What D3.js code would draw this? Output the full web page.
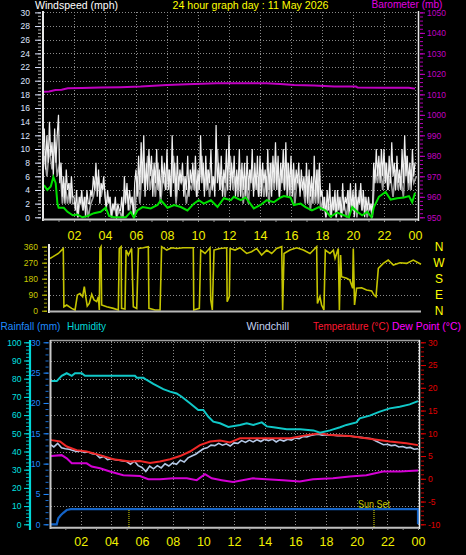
<!DOCTYPE html>
<html><head><meta charset="utf-8">
<script src="https://cdn.jsdelivr.net/npm/d3@7/dist/d3.min.js"></script>
<style>
html,body{margin:0;padding:0;background:#000;}
svg{display:block;}
text{font-family:"Liberation Sans",Arial,sans-serif;}
</style></head><body>
<svg id="c" width="466" height="555"></svg>
<script>
// ---------- DATA ----------
const titleDate = "24 hour graph day : 11 May 2026";
const hourTicks = [2,4,6,8,10,12,14,16,18,20,22,24];

// gust (white), 5-minute samples (mph) from 00:00 to 24:00
const gustMph = [
10,13,7,12,8,14,9,11,6,13,8,12,
15,5,8,3,6,2,7,4,5,2,6,3,
3,1,4,0,3,2,4,1,3,0,4,2,
2,4,3,6,4,8,3,7,2,5,4,6,
3,1,4,2,3,0,2,1,3,0,2,1,
1,3,0,6,2,5,1,4,2,3,0,5,
7,3,9,4,11,5,12,3,8,4,10,6,
9,3,8,5,10,4,7,3,9,5,8,4,
10,4,7,3,12,5,8,3,9,4,7,5,
8,3,6,4,9,3,7,5,8,4,9,3,
7,4,12,5,8,3,9,4,7,5,10,4,
6,3,13.5,5,8,4,9,3,7,5,10,4,
12,4,8,5,9,3,7,4,10,3,8,4,
8,3,9,4,7,5,10,3,8,4,9,3,
9,3,8,5,7,3,10,4,8,3,9,5,
11,4,9,3,8,5,10,4,11,3,8,4,
9,3,8,4,7,5,8,3,7,4,6,3,
8,2,7,3,6,2,9,3,7,2,8,3,
4,1,3,0,4,1,5,0,3,1,4,0,
4,1,3,0,5,1,3,2,4,0,5,1,
4,0,5,1,3,2,5,1,4,0,3,1,
3,1,2,0,8,5,10,6,9,5,10,6,
10,5,8,4,9,5,11,6,8,4,9,5,
7,4,10,5,12,6,9,5,8,4,10,6,
8];
// wind speed (grey), 10-minute samples
const speedMph = [
9,6,10,7,11,6, 8,2,5,2,5,2, 2,0,3,1,3,0, 2,3,5,6,3,5, 2,3,0,2,0,1, 0,3,4,1,3,0,
6,2,8,4,9,4, 7,3,8,2,6,4, 7,3,9,2,6,5, 6,2,5,4,7,3, 5,9,4,7,3,6, 5,10,4,6,3,7,
9,4,6,3,7,2, 6,2,7,4,6,3, 7,3,6,2,8,4, 8,3,7,4,8,3, 7,2,6,4,5,2, 6,1,5,2,7,1,
3,0,2,0,3,0, 3,0,2,0,4,1, 3,0,4,1,3,0, 2,0,7,5,8,4, 8,4,6,3,7,4, 6,3,9,4,7,5, 6];

const avgHours = [0.06,0.28,0.5,0.67,0.82,0.93,1.01,1.34,1.58,1.92,2.22,2.54,2.87,3.29,3.72,4.05,4.26,4.56,5.02,5.34,5.66,5.86,6.09,6.42,6.95,7.39,7.6,8.03,8.46,8.89,9.32,9.73,10.05,10.37,10.83,11.26,11.67,12.12,12.31,12.76,13.07,13.6,14.03,14.44,14.89,15.33,15.54,15.97,16.18,16.62,16.94,17.35,17.8,18.23,18.55,18.98,19.41,19.74,19.95,20.27,20.59,20.92,21.2,21.35,21.67,22.1,22.43,22.85,23.28,23.61,23.82,24.0];
const avgMph = [4.7,4.0,4.5,5.9,5.0,2.0,1.4,1.4,0.8,0.3,0.4,0,0.2,0.6,0.8,1.4,0.2,0,0,0,0.8,0,1.0,1.5,1.3,1.8,2.5,1.4,1.8,1.5,1.0,2.0,2.5,2.0,2.5,1.5,2.8,2.5,3.0,2.5,2.9,1.3,1.8,2.5,2.2,2.9,3.1,2.9,1.8,2.0,1.5,1.0,1.5,1.0,0.1,0.7,0.3,0,1.5,0.8,0.3,0.8,0,1.5,3.0,3.7,2.6,2.8,2.9,3.1,2.2,3.6];

const baroHours = [0,0.4,0.8,1.2,1.6,2.5,3.7,5.0,6.3,8.0,9.3,11.2,12.3,14.4,15.3,16.2,17.5,18.8,20.2,20.3,22,23.6,24];
const baroMb = [1011.3,1011.4,1012.1,1012.3,1013.0,1013.1,1013.3,1013.5,1013.8,1014.6,1014.9,1015.4,1015.4,1015.4,1015.1,1014.6,1014.3,1013.8,1013.8,1013.3,1013.2,1013.2,1012.8];

// wind direction (degrees)
const dirHours = [0,0.2,0.54,0.86,0.9,1.08,1.4,1.62,1.77,1.94,2.11,2.22,2.33,2.41,2.54,2.7,2.85,3.02,3.13,3.19,3.23,3.3,3.34,3.67,4.1,4.42,4.48,4.6,4.63,4.85,4.92,5.07,5.28,5.39,5.61,5.72,6.04,6.36,6.4,6.8,7.12,7.22,7.55,7.87,8.2,8.62,9.27,9.3,9.66,9.75,10.03,10.35,10.4,10.5,10.61,11.0,11.43,11.46,11.6,11.65,11.97,12.29,12.72,13.04,13.37,13.69,14.02,14.34,14.66,14.99,15.05,15.14,15.52,15.96,16.39,16.82,17.14,17.25,17.3,17.46,17.57,17.72,17.81,18.11,18.33,18.44,18.65,18.72,18.8,18.86,19.19,19.4,19.58,19.62,19.7,19.83,20.16,20.48,20.81,20.96,21.09,21.24,21.56,21.88,22.21,22.64,23.07,23.5,24.0];
const dirDeg = [294,304,322,350,22,32,13,4,88,97,79,135,69,26,41,92,60,51,79,4,350,360,32,22,13,4,350,360,13,9,341,313,350,22,13,350,354,360,13,4,4,360,341,354,350,354,354,4,13,341,322,354,60,4,341,350,354,51,79,350,341,354,322,332,350,313,341,322,350,360,4,322,341,354,341,322,350,360,41,79,32,4,341,322,341,294,350,4,313,191,182,172,126,350,32,126,129,116,111,88,79,238,266,285,257,270,266,285,261];
const dirLetters = ["N","W","S","E","N"];

// humidity, temperature etc.
const humHours = [0,0.44,0.76,1.09,1.42,1.63,2.07,2.28,3.26,4.78,5.54,5.66,6.09,6.31,6.74,7.39,7.83,8.26,8.59,9.13,9.67,10.0,10.33,10.65,11.09,11.63,12.39,12.83,13.26,13.81,14.14,14.57,15.44,16.31,17.18,17.61,18.26,18.92,19.33,19.98,20.2,20.85,21.51,22.16,22.81,23.46,24];
const humPct = [78.7,78.7,81.6,83,81.6,83,83,81.6,81.6,81.6,81.6,80.5,80.5,79.3,77.1,74.3,72.9,71.9,70.1,66.5,62.8,62.8,59.1,56.4,55.5,53.5,54.6,55.5,54.6,56,53.8,53.3,52.2,52.2,51.6,50.3,51.6,53.3,54.6,56,58.2,59.7,61.9,63.7,64.6,65.9,67.7];

const tempHours = [0,0.11,0.65,1.09,1.74,2.39,3.26,4.13,5.22,5.87,6.52,7.17,7.83,8.48,9.13,9.78,10.44,11.09,11.74,12.39,13.48,14.57,15.66,16.74,17.61,18.26,19.55,21.07,22.16,23.24,24];
const tempC = [8.6,8.5,8.2,7.1,6.3,6.0,5.2,4.3,3.8,3.9,3.5,3.8,4.3,5.0,6.0,7.4,8.2,8.4,8.0,8.9,8.9,8.9,8.9,9.6,10.0,9.6,9.4,8.7,8.2,7.8,7.4];

// windchill, 15-minute samples
const chillC = [7.6,7.0,7.8,6.8,6.6,6.5,6.2,6.0,6.1,5.8,5.9,5.5,5.4,4.6,4.9,4.2,4.4,4.2,4.1,3.9,3.8,3.2,3.9,2.9,
2.5,1.6,2.8,2.2,2.9,2.4,3.3,2.8,3.5,3.2,4.1,3.7,4.6,5.0,5.4,6.0,6.6,6.8,7.4,7.3,7.8,7.4,7.7,7.2,
7.9,7.8,8.4,8.0,8.5,8.1,8.6,8.2,8.7,8.4,8.7,8.1,8.6,8.3,8.7,8.5,9.0,8.8,9.3,9.2,9.5,9.7,9.8,9.6,
9.7,9.6,9.6,9.5,9.5,9.4,9.4,9.3,9.2,9.1,9.0,8.9,8.8,8.3,7.9,7.5,7.6,7.3,7.4,7.0,7.1,6.8,6.9,6.5,6.6];

const dewHours = [0,0.76,1.09,1.42,2.39,2.72,3.26,3.91,4.78,5.87,6.41,7.17,8.04,8.92,9.57,10.11,10.55,11.2,11.94,13.24,14.11,15.2,16.29,17.15,18.46,19.55,20.63,21.72,22.81,24];
const dewC = [5.0,5.2,4.5,3.4,3.4,2.7,2.3,1.6,0.8,0.6,-0.1,-0.1,0.1,0.1,-0.3,1.0,0.1,-0.3,-0.7,0.1,-0.1,-0.3,-0.6,-0.1,0.1,0.5,0.8,1.6,1.6,1.8];

const rainHours = [0,0.44,0.54,0.7,0.87,1.09,1.35,24,24];
const rainMm = [0,0,1.0,1.5,1.9,2.35,2.5,2.5,0];

const sunriseHour = 5.15, sunsetHour = 21.13;

// ---------- DRAW ----------
const svg = d3.select("#c");
svg.append("rect").attr("width",466).attr("height",555).attr("fill","#000");
const fmtHour = d => String(d % 24).padStart(2,"0");
const GRID = "#8a8a8a";

function clip(id,x,y,w,h){
  svg.append("clipPath").attr("id",id).append("rect").attr("x",x).attr("y",y).attr("width",w).attr("height",h);
}
function styleAxis(g,color,fs){
  g.select(".domain").remove();
  g.selectAll("line").attr("stroke",color);
  g.selectAll("text").attr("fill",color).attr("font-size",fs).attr("font-family","Liberation Sans, Arial, sans-serif");
}
function hline(x1,x2,y,color,w,dash){
  const l=svg.append("line").attr("x1",x1).attr("x2",x2).attr("y1",y).attr("y2",y).attr("stroke",color).attr("stroke-width",w);
  if(dash) l.attr("stroke-dasharray",dash); return l;
}
function vline(x,y1,y2,color,w,dash){
  const l=svg.append("line").attr("x1",x).attr("x2",x).attr("y1",y1).attr("y2",y2).attr("stroke",color).attr("stroke-width",w);
  if(dash) l.attr("stroke-dasharray",dash); return l;
}
function title(txt,x,y,color,len,fs,fam){
  const t = svg.append("text").attr("x",x).attr("y",y).attr("fill",color).attr("font-size",fs)
    .attr("textLength",len).attr("lengthAdjust","spacingAndGlyphs").text(txt);
  if(fam) t.attr("font-family",fam);
  return t;
}

// ===== TOP PANEL =====
const xT = d3.scaleLinear().domain([0,24]).range([43,415]);
const yW = d3.scaleLinear().domain([0,30]).range([217.3,12.4]);
const yB = d3.scaleLinear().domain([950,1050]).range([217.3,12.4]);

d3.range(2,31,2).forEach(v=>hline(44,418,Math.round(yW(v))+0.5,GRID,1,"1,2"));
hourTicks.forEach(h=>vline(Math.round(xT(h))+0.5,12,219,GRID,1,"1,2"));

clip("cTop",44,10,373,210);
const gTop = svg.append("g").attr("clip-path","url(#cTop)");
gTop.append("path").datum(speedMph).attr("fill","none").attr("stroke","#a0a0a0").attr("stroke-width",1.6)
  .attr("d",d3.line().x((d,i)=>xT(i/6 + 1/12)).y(d=>yW(d)));
gTop.append("path").datum(gustMph).attr("fill","none").attr("stroke","#f0f0f0").attr("stroke-width",1.2)
  .attr("d",d3.line().x((d,i)=>xT(i/12)).y(d=>yW(d)));
gTop.append("path").datum(avgMph).attr("fill","none").attr("stroke","#00e000").attr("stroke-width",2)
  .attr("d",d3.line().x((d,i)=>xT(avgHours[i])).y(d=>yW(d)));
gTop.append("path").datum(baroMb).attr("fill","none").attr("stroke","#c000c0").attr("stroke-width",2)
  .attr("d",d3.line().x((d,i)=>xT(baroHours[i])).y(d=>yB(d)));

vline(43,11,221,"#e8e8e8",2);
hline(43,419,219.5,"#c8c8c8",2);
vline(418.5,11,221,"#e8e8e8",1.5);

// left wind axis
styleAxis(svg.append("g").attr("transform","translate(41,0)")
  .call(d3.axisLeft(yW).tickValues(d3.range(0,30.01,0.5)).tickSize(3).tickFormat("")),"#b0b0b0",8);
styleAxis(svg.append("g").attr("transform","translate(41,0)")
  .call(d3.axisLeft(yW).tickValues(d3.range(0,31,2)).tickSize(6).tickPadding(5).tickFormat(d=>d)),"#dfe6ff",8.5);
// right baro axis
styleAxis(svg.append("g").attr("transform","translate(420,0)")
  .call(d3.axisRight(yB).tickValues(d3.range(950,1050.1,2)).tickSize(3).tickFormat("")),"#b000b0",8);
styleAxis(svg.append("g").attr("transform","translate(420,0)")
  .call(d3.axisRight(yB).tickValues(d3.range(950,1051,10)).tickSize(5).tickPadding(2).tickFormat(d=>d)),"#c000c0",8.5);
// x axis top
styleAxis(svg.append("g").attr("transform","translate(0,220)")
  .call(d3.axisBottom(xT).tickValues(d3.range(1,25,1)).tickSize(2).tickFormat("")),"#909090",8);
styleAxis(svg.append("g").attr("transform","translate(0,226)")
  .call(d3.axisBottom(xT).tickValues(hourTicks).tickSize(0).tickPadding(5).tickFormat(fmtHour)),"#f0f000",12.5);

title("Windspeed (mph)",35,8.5,"#ffffff",83,10.5);
title(titleDate,172.5,8.5,"#ffff00",156,11.4);
title("Barometer (mb)",371.5,7.6,"#e000e0",71,10);

// ===== WIND DIRECTION PANEL =====
const xD = d3.scaleLinear().domain([0,24]).range([50,421]);
const yD = d3.scaleLinear().domain([0,360]).range([310.7,246.7]);
[90,180,270,360].forEach(v=>hline(50,421,Math.round(yD(v))+0.5,GRID,1,"1,2"));
clip("cDir",50,244,372,68);
svg.append("g").attr("clip-path","url(#cDir)").append("path").datum(dirDeg)
  .attr("fill","none").attr("stroke","#c4c400").attr("stroke-width",1.6)
  .attr("d",d3.line().x((d,i)=>xD(dirHours[i])).y(d=>yD(d)));
vline(49,244,313,"#e8e8e8",2);
hline(49,421,311.5,"#b8b8b8",2);
styleAxis(svg.append("g").attr("transform","translate(47,0)")
  .call(d3.axisLeft(yD).tickValues(d3.range(0,360.1,22.5)).tickSize(3).tickFormat("")),"#a0a000",8);
styleAxis(svg.append("g").attr("transform","translate(47,0)")
  .call(d3.axisLeft(yD).tickValues([0,90,180,270,360]).tickSize(5).tickPadding(4).tickFormat(d=>d)),"#c8c800",8.5);
svg.append("g").selectAll("text").data(dirLetters).join("text")
  .attr("x",439).attr("y",(d,i)=>yD(360-i*90)).attr("dy","0.36em").attr("text-anchor","middle")
  .attr("fill","#ffff00").attr("font-size",12).text(d=>d);

// ===== BOTTOM PANEL =====
const xBt = d3.scaleLinear().domain([0,24]).range([50,418]);
const yH = d3.scaleLinear().domain([0,100]).range([524.3,342.3]);
const yR = d3.scaleLinear().domain([0,30]).range([524.3,342.3]);
const yTc = d3.scaleLinear().domain([-10,30]).range([524.3,342.3]);

d3.range(10,101,10).forEach(v=>hline(51,419,Math.round(yH(v))+0.5,GRID,1,"1,2"));
hourTicks.forEach(h=>vline(Math.round(xBt(h))+0.5,341,527,GRID,1,"1,2"));

clip("cBot",51,341,368,186);
const gB = svg.append("g").attr("clip-path","url(#cBot)");
gB.append("path").datum(rainMm).attr("fill","none").attr("stroke","#1464c8").attr("stroke-width",2.2)
  .attr("d",d3.line().x((d,i)=>xBt(rainHours[i])).y(d=>yR(d)));
gB.append("path").datum(dewC).attr("fill","none").attr("stroke","#d400d4").attr("stroke-width",2)
  .attr("d",d3.line().x((d,i)=>xBt(dewHours[i])).y(d=>yTc(d)));
gB.append("path").datum(chillC).attr("fill","none").attr("stroke","#b4c8e6").attr("stroke-width",1.6)
  .attr("d",d3.line().x((d,i)=>xBt(i/4)).y(d=>yTc(d)));
gB.append("path").datum(tempC).attr("fill","none").attr("stroke","#f02828").attr("stroke-width",2)
  .attr("d",d3.line().x((d,i)=>xBt(tempHours[i])).y(d=>yTc(d)));
gB.append("path").datum(humPct).attr("fill","none").attr("stroke","#10c8c8").attr("stroke-width",2)
  .attr("d",d3.line().x((d,i)=>xBt(humHours[i])).y(d=>yH(d)));

// sun rise / set markers
vline(xBt(sunriseHour),510,527,"#e0e000",1,"1,1");
vline(xBt(sunsetHour),510,527,"#e0e000",1,"1,1");
svg.append("text").attr("x",xBt(sunsetHour)).attr("y",508).attr("text-anchor","middle")
  .attr("fill","#c8c800").attr("font-size",10.5).attr("textLength",32).attr("lengthAdjust","spacingAndGlyphs").text("Sun Set");

hline(50,420,340.5,"#a0a0a0",1.5);
vline(50.5,340,529,"#c8c8c8",2);
hline(50,420,527.7,"#c0c0c0",2);
vline(419.5,340,529,"#e8e8e8",1.5);

// humidity axis
vline(30,340,530,"#00d8d8",2.2);
styleAxis(svg.append("g").attr("transform","translate(29,0)")
  .call(d3.axisLeft(yH).tickValues(d3.range(0,100.1,2)).tickSize(3).tickFormat("")),"#00b8b8",8);
styleAxis(svg.append("g").attr("transform","translate(29,0)")
  .call(d3.axisLeft(yH).tickValues(d3.range(0,101,10)).tickSize(5).tickPadding(2.5).tickFormat(d=>d)),"#00e0e0",8.5);
// rain axis
styleAxis(svg.append("g").attr("transform","translate(48.5,0)")
  .call(d3.axisLeft(yR).tickValues(d3.range(0,30.1,1)).tickSize(3).tickFormat("")),"#1870d8",8);
styleAxis(svg.append("g").attr("transform","translate(48.5,0)")
  .call(d3.axisLeft(yR).tickValues(d3.range(0,31,5)).tickSize(5).tickPadding(3).tickFormat(d=>d)),"#2088ff",8.5);
// temperature axis
styleAxis(svg.append("g").attr("transform","translate(421,0)")
  .call(d3.axisRight(yTc).tickValues(d3.range(-10,30.1,1)).tickSize(3).tickFormat("")),"#c00000",8);
styleAxis(svg.append("g").attr("transform","translate(421,0)")
  .call(d3.axisRight(yTc).tickValues(d3.range(-10,31,5)).tickSize(5).tickPadding(2).tickFormat(d=>String(d))),"#e00000",8.5);
// x axis bottom
styleAxis(svg.append("g").attr("transform","translate(0,528)")
  .call(d3.axisBottom(xBt).tickValues(d3.range(1,25,1)).tickSize(2).tickFormat("")),"#909090",8);
styleAxis(svg.append("g").attr("transform","translate(0,531)")
  .call(d3.axisBottom(xBt).tickValues(hourTicks).tickSize(0).tickPadding(6).tickFormat(fmtHour)),"#f0f000",12.5);

title("Rainfall (mm)",0.5,330,"#1e8cff",60,10.2);
title("Humidity",67,330,"#00d8d8",39,10.2);
title("Windchill",246.5,330,"#c0d0f0",42.5,10.6);
title("Temperature (°C)",313,330,"#ff1830",76,10.3,"'Liberation Sans Narrow','Liberation Sans',Arial,sans-serif");
title("Dew Point (°C)",392,330,"#ff00ff",69,10.3);
</script>
</body></html>
